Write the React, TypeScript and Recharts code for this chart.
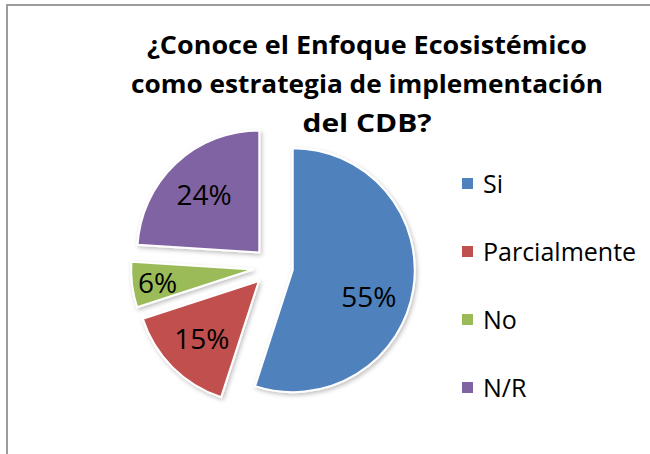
import React from 'react';
import { PieChart, Pie, Cell, Legend } from 'recharts';

const CATEGORIES = ['Si', 'Parcialmente', 'No', 'N/R'];
const VALUES = [55, 15, 6, 24];
const COLORS = ['#4F81BD', '#C0504D', '#9BBB59', '#8064A2'];

const TITLE_LINES = [
  '¿Conoce el Enfoque Ecosistémico',
  'como estrategia de implementación',
  'del CDB?',
];

const pieData = CATEGORIES.map((name, i) => ({ name, value: VALUES[i] }));

// pie geometry (before explosion) and how far every slice is pulled out
const CX = 273;
const CY = 267;
const RADIUS = 122;
const EXPLODE = 20;
const RAD = Math.PI / 180;
const FONT = "'Open Sans', sans-serif";

const total = VALUES.reduce((a, b) => a + b, 0);
// slices go clockwise from 12 o'clock, recharts angles are counter-clockwise from 3 o'clock
const midAngles = VALUES.map((v, i) => {
  const before = VALUES.slice(0, i).reduce((a, b) => a + b, 0);
  return 90 - ((before + v / 2) / total) * 360;
});

// title lines: width stretched to match the wide original font
const TITLE_LAYOUT = [
  { y: 54, width: 440 },
  { y: 93, width: 472 },
  { y: 132, width: 129 },
];

const renderLabel = (only: number) => (props: any) => {
  const { cx, cy, midAngle, outerRadius, percent, index } = props;
  if (index !== only) return null;
  const f = percent < 0.1 ? 0.79 : 0.66;
  // the big slice's label sits a little lower in the original
  const a = percent > 0.5 ? midAngle - 10 : midAngle;
  const x = cx + outerRadius * f * Math.cos(-a * RAD);
  const y = cy + outerRadius * f * Math.sin(-a * RAD);
  return (
    <text
      x={x}
      y={y}
      textAnchor="middle"
      dominantBaseline="central"
      fill="#000"
      fontSize={28}
      fontFamily={FONT}
    >
      {`${Math.round(percent * 100)}%`}
    </text>
  );
};

const LegendContent = () => (
  <div style={{ fontFamily: FONT, fontSize: 25, color: '#000' }}>
    {CATEGORIES.map((name, i) => (
      <div key={name} style={{ height: 68, display: 'flex', alignItems: 'center' }}>
        <span
          style={{
            display: 'inline-block',
            width: 11,
            height: 11,
            background: COLORS[i],
            marginRight: 10,
          }}
        />
        <span>{name}</span>
      </div>
    ))}
  </div>
);

const App: React.FC = () => {
  return (
    <div
      style={{
        position: 'absolute',
        left: 0,
        top: 0,
        width: 650,
        height: 454,
        overflow: 'hidden',
        background: '#fff',
      }}
    >
      <div
        style={{
          position: 'absolute',
          left: 6,
          top: 4,
          width: 700,
          height: 500,
          border: '2px solid #9c9c9c',
        }}
      />
      <div style={{ position: 'absolute', left: 0, top: 0 }}>
        <PieChart width={650} height={454} margin={{ top: 0, right: 0, bottom: 0, left: 0 }}>
          <defs>
            <filter id="sliceShadow" x="-20%" y="-20%" width="140%" height="140%">
              <feDropShadow dx="1.5" dy="2" stdDeviation="2" floodColor="#000" floodOpacity="0.25" />
            </filter>
          </defs>
          {TITLE_LINES.map((line, i) => (
            <text
              key={line}
              x={367}
              y={TITLE_LAYOUT[i].y}
              textAnchor="middle"
              fontFamily={FONT}
              fontWeight="bold"
              fontSize={25}
              fill="#000"
              textLength={TITLE_LAYOUT[i].width}
              lengthAdjust="spacingAndGlyphs"
            >
              {line}
            </text>
          ))}
          {VALUES.map((_, k) => (
            <Pie
              key={`slice-${k}`}
              data={pieData}
              dataKey="value"
              nameKey="name"
              cx={CX + EXPLODE * Math.cos(midAngles[k] * RAD)}
              cy={CY - EXPLODE * Math.sin(midAngles[k] * RAD)}
              outerRadius={RADIUS}
              startAngle={90}
              endAngle={-270}
              label={renderLabel(k)}
              labelLine={false}
              isAnimationActive={false}
            >
              {pieData.map((entry, i) => (
                <Cell
                  key={entry.name}
                  fill={i === k ? COLORS[i] : 'transparent'}
                  stroke={i === k ? '#ffffff' : 'none'}
                  strokeWidth={i === k ? 2 : 0}
                  filter={i === k ? 'url(#sliceShadow)' : undefined}
                />
              ))}
            </Pie>
          ))}
          <Legend
            layout="vertical"
            align="right"
            verticalAlign="top"
            content={<LegendContent />}
            wrapperStyle={{ left: 462, top: 149, width: 185, right: 'auto' }}
          />
        </PieChart>
      </div>
    </div>
  );
};

export default App;
